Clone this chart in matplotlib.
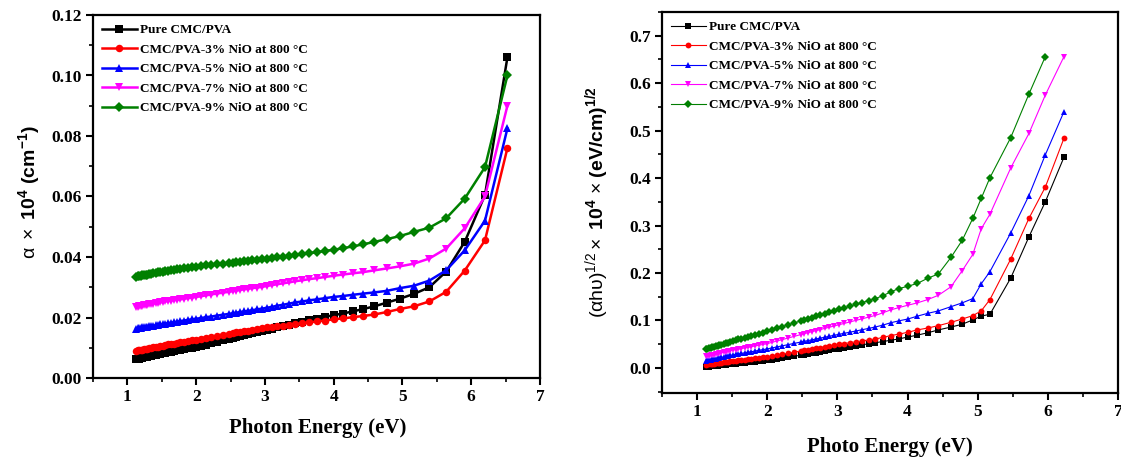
import matplotlib
matplotlib.use("Agg")
import matplotlib.pyplot as plt
from matplotlib.ticker import MultipleLocator, FormatStrFormatter

# ---------------- data: left panel (absorption coefficient) ----------------
PHOTON_ENERGY_LEFT = [
    1.127, 1.148, 1.170, 1.192, 1.216, 1.240, 1.265, 1.292, 1.319, 1.348,
    1.378, 1.409, 1.442, 1.476, 1.512, 1.550, 1.590, 1.632, 1.676, 1.722,
    1.771, 1.824, 1.879, 1.938, 2.000, 2.067, 2.138, 2.214, 2.296, 2.385,
    2.480, 2.531, 2.583, 2.638, 2.696, 2.756, 2.818, 2.884, 2.952, 3.024,
    3.100, 3.179, 3.263, 3.351, 3.444, 3.543, 3.647, 3.758, 3.875, 4.000,
    4.133, 4.276, 4.429, 4.593, 4.769, 4.960, 5.167, 5.391, 5.636, 5.905,
    6.200, 6.526]

ALPHA_PURE = [
    0.0062, 0.0063, 0.0064, 0.0065, 0.0066, 0.0068, 0.0069, 0.0070, 0.0072, 0.0073,
    0.0075, 0.0076, 0.0078, 0.0080, 0.0082, 0.0083, 0.0085, 0.0087, 0.0089, 0.0091,
    0.0093, 0.0095, 0.0098, 0.0100, 0.0103, 0.0107, 0.0110, 0.0115, 0.0119, 0.0124,
    0.0129, 0.0132, 0.0135, 0.0138, 0.0141, 0.0144, 0.0148, 0.0151, 0.0155, 0.0159,
    0.0163, 0.0167, 0.0172, 0.0176, 0.0181, 0.0186, 0.0191, 0.0196, 0.0202, 0.0208,
    0.0213, 0.0220, 0.0228, 0.0237, 0.0249, 0.0262, 0.0278, 0.0300, 0.0352, 0.0450,
    0.0605, 0.1060]

ALPHA_NIO3 = [
    0.0090, 0.0091, 0.0092, 0.0093, 0.0094, 0.0095, 0.0096, 0.0097, 0.0099, 0.0100,
    0.0101, 0.0103, 0.0104, 0.0106, 0.0107, 0.0109, 0.0111, 0.0112, 0.0114, 0.0116,
    0.0118, 0.0120, 0.0122, 0.0125, 0.0127, 0.0130, 0.0133, 0.0136, 0.0139, 0.0143,
    0.0147, 0.0149, 0.0151, 0.0153, 0.0155, 0.0157, 0.0159, 0.0162, 0.0164, 0.0167,
    0.0169, 0.0171, 0.0173, 0.0176, 0.0178, 0.0181, 0.0184, 0.0187, 0.0190, 0.0194,
    0.0197, 0.0201, 0.0205, 0.0210, 0.0218, 0.0228, 0.0237, 0.0253, 0.0285, 0.0355,
    0.0455, 0.0760]

ALPHA_NIO5 = [
    0.0163, 0.0164, 0.0165, 0.0166, 0.0167, 0.0168, 0.0169, 0.0170, 0.0171, 0.0172,
    0.0173, 0.0174, 0.0176, 0.0177, 0.0178, 0.0180, 0.0181, 0.0183, 0.0184, 0.0186,
    0.0188, 0.0190, 0.0192, 0.0194, 0.0196, 0.0198, 0.0201, 0.0203, 0.0206, 0.0209,
    0.0212, 0.0214, 0.0216, 0.0218, 0.0220, 0.0222, 0.0224, 0.0227, 0.0229, 0.0232,
    0.0235, 0.0239, 0.0242, 0.0246, 0.0250, 0.0253, 0.0257, 0.0260, 0.0264, 0.0268,
    0.0271, 0.0275, 0.0279, 0.0283, 0.0288, 0.0297, 0.0305, 0.0322, 0.0356, 0.0422,
    0.0520, 0.0825]

ALPHA_NIO7 = [
    0.0235, 0.0236, 0.0237, 0.0238, 0.0239, 0.0240, 0.0241, 0.0242, 0.0243, 0.0244,
    0.0246, 0.0247, 0.0248, 0.0250, 0.0251, 0.0253, 0.0254, 0.0256, 0.0257, 0.0259,
    0.0260, 0.0262, 0.0264, 0.0266, 0.0268, 0.0270, 0.0273, 0.0276, 0.0279, 0.0282,
    0.0285, 0.0287, 0.0289, 0.0291, 0.0293, 0.0295, 0.0297, 0.0299, 0.0301, 0.0304,
    0.0307, 0.0310, 0.0313, 0.0316, 0.0320, 0.0323, 0.0327, 0.0330, 0.0334, 0.0338,
    0.0342, 0.0346, 0.0350, 0.0356, 0.0362, 0.0369, 0.0378, 0.0395, 0.0428, 0.0495,
    0.0600, 0.0900]

ALPHA_NIO9 = [
    0.0335, 0.0336, 0.0337, 0.0338, 0.0339, 0.0340, 0.0341, 0.0342, 0.0344, 0.0345,
    0.0346, 0.0348, 0.0349, 0.0351, 0.0352, 0.0354, 0.0355, 0.0356, 0.0358, 0.0359,
    0.0361, 0.0362, 0.0364, 0.0366, 0.0368, 0.0370, 0.0372, 0.0374, 0.0376, 0.0378,
    0.0380, 0.0381, 0.0383, 0.0384, 0.0386, 0.0387, 0.0389, 0.0391, 0.0393, 0.0395,
    0.0397, 0.0399, 0.0401, 0.0404, 0.0406, 0.0409, 0.0413, 0.0416, 0.0420, 0.0424,
    0.0429, 0.0435, 0.0442, 0.0450, 0.0459, 0.0469, 0.0483, 0.0497, 0.0528, 0.0593,
    0.0697, 0.1000]

# ---------------- data: right panel ((alpha h nu)^1/2) ----------------
PHOTO_ENERGY_RIGHT = [
    1.127, 1.148, 1.170, 1.192, 1.216, 1.240, 1.265, 1.292, 1.319, 1.348,
    1.378, 1.409, 1.442, 1.476, 1.512, 1.550, 1.590, 1.632, 1.676, 1.722,
    1.771, 1.824, 1.879, 1.938, 2.000, 2.067, 2.138, 2.214, 2.296, 2.385,
    2.480, 2.531, 2.583, 2.638, 2.696, 2.756, 2.818, 2.884, 2.952, 3.024,
    3.100, 3.179, 3.263, 3.351, 3.444, 3.543, 3.647, 3.758, 3.875, 4.005,
    4.140, 4.290, 4.440, 4.620, 4.780, 4.930, 5.050, 5.175, 5.470, 5.730,
    5.964, 6.230]

TAUC_PURE = [
    0.0020, 0.0023, 0.0027, 0.0030, 0.0034, 0.0038, 0.0042, 0.0046, 0.0051, 0.0055,
    0.0060, 0.0065, 0.0071, 0.0076, 0.0082, 0.0088, 0.0094, 0.0101, 0.0108, 0.0116,
    0.0123, 0.0132, 0.0141, 0.0150, 0.0160, 0.0175, 0.0190, 0.0207, 0.0225, 0.0245,
    0.0266, 0.0278, 0.0292, 0.0306, 0.0321, 0.0337, 0.0353, 0.0370, 0.0388, 0.0406,
    0.0426, 0.0445, 0.0465, 0.0485, 0.0508, 0.0530, 0.0555, 0.0580, 0.0610, 0.0650,
    0.0690, 0.0740, 0.0800, 0.0860, 0.0920, 0.1010, 0.1090, 0.1130, 0.1890, 0.2760,
    0.3500, 0.4440]

TAUC_NIO3 = [
    0.0070, 0.0074, 0.0078, 0.0082, 0.0086, 0.0091, 0.0096, 0.0101, 0.0106, 0.0111,
    0.0117, 0.0123, 0.0129, 0.0135, 0.0142, 0.0149, 0.0156, 0.0164, 0.0172, 0.0180,
    0.0189, 0.0198, 0.0208, 0.0219, 0.0230, 0.0247, 0.0266, 0.0286, 0.0307, 0.0330,
    0.0355, 0.0368, 0.0382, 0.0396, 0.0411, 0.0427, 0.0443, 0.0460, 0.0478, 0.0495,
    0.0512, 0.0530, 0.0548, 0.0567, 0.0588, 0.0610, 0.0640, 0.0680, 0.0710, 0.0750,
    0.0800, 0.0840, 0.0890, 0.0960, 0.1030, 0.1100, 0.1200, 0.1440, 0.2290, 0.3150,
    0.3810, 0.4840]

TAUC_NIO5 = [
    0.0150, 0.0157, 0.0164, 0.0171, 0.0178, 0.0186, 0.0194, 0.0203, 0.0212, 0.0221,
    0.0231, 0.0241, 0.0251, 0.0262, 0.0273, 0.0283, 0.0293, 0.0304, 0.0316, 0.0328,
    0.0340, 0.0354, 0.0369, 0.0384, 0.0400, 0.0420, 0.0441, 0.0464, 0.0489, 0.0516,
    0.0544, 0.0559, 0.0575, 0.0591, 0.0609, 0.0627, 0.0645, 0.0665, 0.0686, 0.0707,
    0.0729, 0.0752, 0.0777, 0.0803, 0.0831, 0.0862, 0.0900, 0.0950, 0.0990, 0.1030,
    0.1090, 0.1150, 0.1200, 0.1290, 0.1370, 0.1460, 0.1770, 0.2030, 0.2840, 0.3630,
    0.4490, 0.5400]

TAUC_NIO7 = [
    0.0240, 0.0247, 0.0255, 0.0263, 0.0271, 0.0280, 0.0289, 0.0298, 0.0308, 0.0318,
    0.0329, 0.0340, 0.0351, 0.0363, 0.0374, 0.0384, 0.0395, 0.0407, 0.0419, 0.0432,
    0.0446, 0.0461, 0.0476, 0.0493, 0.0510, 0.0537, 0.0565, 0.0596, 0.0628, 0.0664,
    0.0702, 0.0722, 0.0742, 0.0763, 0.0785, 0.0807, 0.0831, 0.0856, 0.0882, 0.0909,
    0.0938, 0.0968, 0.1000, 0.1033, 0.1069, 0.1106, 0.1160, 0.1220, 0.1270, 0.1320,
    0.1370, 0.1440, 0.1530, 0.1710, 0.2050, 0.2390, 0.2930, 0.3240, 0.4210, 0.4940,
    0.5750, 0.6560]

# the 9 % sample has no point at the last energy
TAUC_NIO9 = [
    0.0390, 0.0399, 0.0409, 0.0419, 0.0430, 0.0441, 0.0453, 0.0465, 0.0478, 0.0491,
    0.0505, 0.0519, 0.0534, 0.0550, 0.0565, 0.0581, 0.0598, 0.0615, 0.0634, 0.0653,
    0.0674, 0.0696, 0.0719, 0.0744, 0.0770, 0.0801, 0.0833, 0.0868, 0.0906, 0.0947,
    0.0991, 0.1014, 0.1037, 0.1061, 0.1087, 0.1114, 0.1141, 0.1170, 0.1200, 0.1231,
    0.1264, 0.1299, 0.1336, 0.1375, 0.1416, 0.1460, 0.1520, 0.1600, 0.1670, 0.1720,
    0.1780, 0.1890, 0.1980, 0.2330, 0.2690, 0.3150, 0.3570, 0.4010, 0.4850, 0.5770,
    0.6560]

LABELS = ["Pure CMC/PVA",
          "CMC/PVA-3% NiO at 800 °C",
          "CMC/PVA-5% NiO at 800 °C",
          "CMC/PVA-7% NiO at 800 °C",
          "CMC/PVA-9% NiO at 800 °C"]
COLORS = ["#000000", "#ff0000", "#0000ff", "#ff00ff", "#008000"]
MARKERS = ["s", "o", "^", "v", "D"]
MSIZE_LEFT = [5.2, 5.4, 6.2, 6.2, 4.8]
MSIZE_RIGHT = [3.8, 4.2, 4.8, 4.8, 3.8]

plt.rcParams["font.family"] = ["Liberation Serif", "DejaVu Serif"]
plt.rcParams["font.weight"] = "bold"
plt.rcParams["mathtext.fontset"] = "custom"
plt.rcParams["mathtext.rm"] = "Liberation Sans:normal"
plt.rcParams["mathtext.bf"] = "Liberation Sans:bold"
plt.rcParams["mathtext.it"] = "Liberation Sans:italic:normal"

W, H = 1121, 461
fig = plt.figure(figsize=(W / 100, H / 100), dpi=100)

def px_axes(left, top, right, bottom):
    return fig.add_axes([left / W, 1 - bottom / H, (right - left) / W, (bottom - top) / H])

ax1 = px_axes(93, 15, 540, 378)
ax2 = px_axes(662, 12, 1118, 393)

left_series = [ALPHA_PURE, ALPHA_NIO3, ALPHA_NIO5, ALPHA_NIO7, ALPHA_NIO9]
for vals, lab, c, m, ms in zip(left_series, LABELS, COLORS, MARKERS, MSIZE_LEFT):
    ax1.plot(PHOTON_ENERGY_LEFT[:len(vals)], vals, color=c, marker=m, ms=ms,
             mew=0, lw=1.8, label=lab)

right_series = [TAUC_PURE, TAUC_NIO3, TAUC_NIO5, TAUC_NIO7, TAUC_NIO9]
for vals, lab, c, m, ms in zip(right_series, LABELS, COLORS, MARKERS, MSIZE_RIGHT):
    ax2.plot(PHOTO_ENERGY_RIGHT[:len(vals)], vals, color=c, marker=m, ms=ms,
             mew=0, lw=0.8, label=lab)

ax1.set_xlim(0.5, 7.0)
ax1.set_ylim(0.0, 0.12)
ax1.xaxis.set_major_locator(MultipleLocator(1))
ax1.xaxis.set_minor_locator(MultipleLocator(0.5))
ax1.yaxis.set_major_locator(MultipleLocator(0.02))
ax1.yaxis.set_minor_locator(MultipleLocator(0.01))
ax1.yaxis.set_major_formatter(FormatStrFormatter("%.2f"))

ax2.set_xlim(0.5, 7.0)
ax2.set_ylim(-0.053, 0.75)
ax2.xaxis.set_major_locator(MultipleLocator(1))
ax2.xaxis.set_minor_locator(MultipleLocator(0.5))
ax2.yaxis.set_major_locator(MultipleLocator(0.1))
ax2.yaxis.set_minor_locator(MultipleLocator(0.05))
ax2.yaxis.set_major_formatter(FormatStrFormatter("%.1f"))

for ax in (ax1, ax2):
    for s in ax.spines.values():
        s.set_linewidth(1.6)
    ax.tick_params(which="major", direction="out", length=5, width=1.5,
                   labelsize=12.5, top=False, right=False, pad=3)
    ax.tick_params(which="minor", direction="out", length=3, width=1.2,
                   top=False, right=False)
    for t in ax.get_xticklabels() + ax.get_yticklabels():
        t.set_fontweight("bold")
    ax.legend(loc="upper left", frameon=False,
              prop={"family": "Liberation Serif", "weight": "bold", "size": 9.5},
              handlelength=2.6, handletextpad=0.25, labelspacing=0.55,
              borderaxespad=0.4, borderpad=0.3)

fig.text(318 / W, 1 - 428 / H, "Photon Energy (eV)", ha="center", va="center",
         fontsize=15, fontweight="bold")
fig.text(890 / W, 1 - 447 / H, "Photo Energy (eV)", ha="center", va="center",
         fontsize=15, fontweight="bold")

fig.text(29 / W, 1 - 192 / H,
         r"$\mathrm{\alpha\ \times}\ \mathbf{10^4\ (cm^{-1})}$",
         rotation=90, ha="center", va="center", fontsize=14, fontweight="normal")
fig.text(597 / W, 1 - 202 / H,
         r"$\mathrm{(\alpha h\upsilon)^{1/2}\times}\ \mathbf{10^4}\ \mathrm{\times}\ \mathbf{(eV/cm)^{1/2}}$",
         rotation=90, ha="center", va="center", fontsize=14, fontweight="normal")

fig.savefig("out.png", dpi=100, facecolor="white")
